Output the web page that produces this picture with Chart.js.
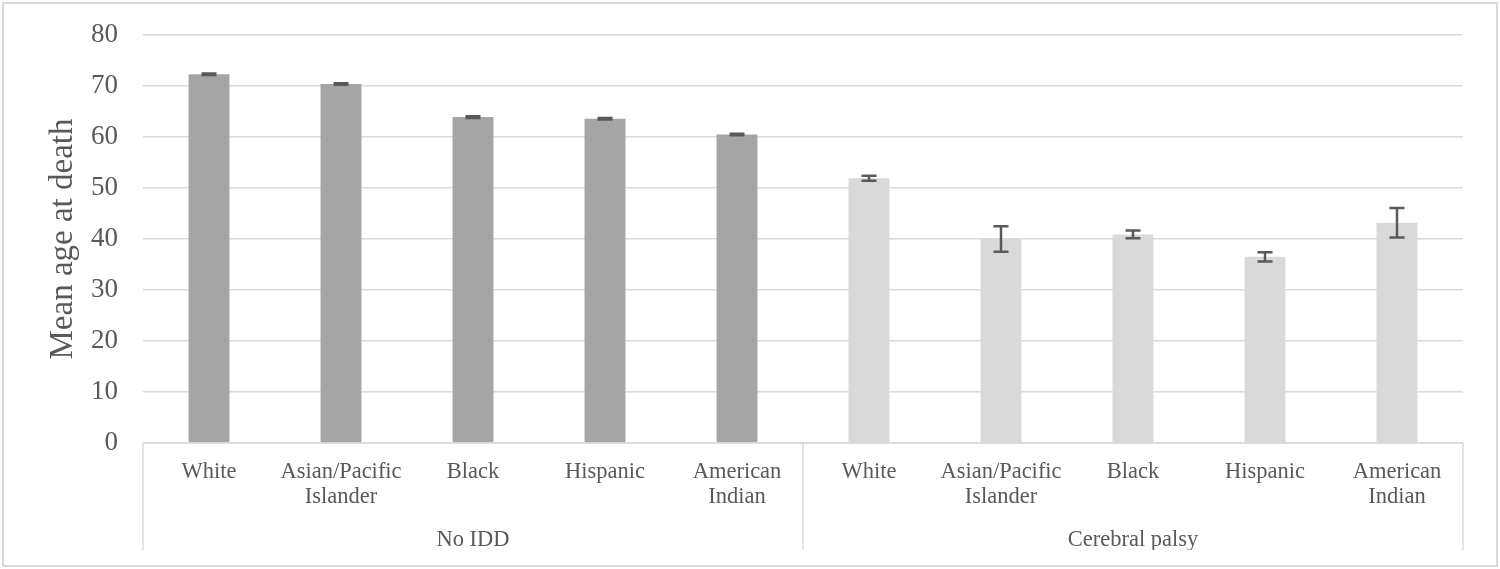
<!DOCTYPE html>
<html>
<head>
<meta charset="utf-8">
<script src="https://cdn.jsdelivr.net/npm/chart.js@4"></script>
<style>
  html, body { margin: 0; padding: 0; background: #fff; }
  #wrap { width: 1500px; height: 569px; }
</style>
</head>
<body>
<div id="wrap"><canvas id="grafica" width="1500" height="569"></canvas></div>
<script>
const categorias = [
  "White", ["Asian/Pacific", "Islander"], "Black", "Hispanic", ["American", "Indian"],
  "White", ["Asian/Pacific", "Islander"], "Black", "Hispanic", ["American", "Indian"],
];
const grupos = ["No IDD", "Cerebral palsy"];
const grupoDeBarra = [0, 0, 0, 0, 0, 1, 1, 1, 1, 1];
const edadMedia = [72.3, 70.4, 63.9, 63.6, 60.5, 51.9, 40.0, 40.9, 36.5, 43.2];
const errorEdad = [0.15, 0.15, 0.15, 0.15, 0.15, 0.5, 2.5, 0.75, 0.9, 2.9];
const ticksY = [0, 10, 20, 30, 40, 50, 60, 70, 80];

const gris = "#595959";
const lineaGris = "#d9d9d9";
const coloresGrupo = ["#a5a5a5", "#d9d9d9"];

// barras de error y separadores de grupos
const extras = {
  id: "extras",
  beforeDraw(chart) {
    const c = chart.ctx;
    c.save();
    c.strokeStyle = lineaGris;
    c.lineWidth = 2;
    c.strokeRect(3, 3, chart.width - 6, chart.height - 6);
    c.restore();
  },
  afterDatasetsDraw(chart) {
    const c = chart.ctx;
    const y = chart.scales.y;
    const x = chart.scales.x;
    const area = chart.chartArea;
    const meta = chart.getDatasetMeta(0);
    c.save();
    c.strokeStyle = gris;
    c.lineWidth = 2.5;
    meta.data.forEach((bar, i) => {
      const px = bar.x;
      const arriba = y.getPixelForValue(edadMedia[i] + errorEdad[i]);
      const abajo = y.getPixelForValue(edadMedia[i] - errorEdad[i]);
      c.beginPath();
      c.moveTo(px, arriba); c.lineTo(px, abajo);
      c.moveTo(px - 7.5, arriba); c.lineTo(px + 7.5, arriba);
      c.moveTo(px - 7.5, abajo); c.lineTo(px + 7.5, abajo);
      c.stroke();
    });
    // separadores
    const fin = chart.scales.x2.bottom;
    const medio = (x.getPixelForValue(4) + x.getPixelForValue(5)) / 2;
    c.strokeStyle = lineaGris;
    c.lineWidth = 1.5;
    c.beginPath();
    [area.left, medio, area.right].forEach((px) => {
      c.moveTo(px, area.bottom); c.lineTo(px, fin);
    });
    c.moveTo(area.left, area.bottom); c.lineTo(area.right, area.bottom);
    c.stroke();
    c.restore();
  },
};

new Chart(document.getElementById("grafica").getContext("2d"), {
  type: "bar",
  data: {
    labels: categorias,
    datasets: [
      {
        label: "Mean age at death",
        data: edadMedia,
        backgroundColor: grupoDeBarra.map((g) => coloresGrupo[g]),
        barPercentage: 0.31,
        categoryPercentage: 1,
      },
    ],
  },
  options: {
    responsive: false,
    animation: false,
    layout: { padding: { left: 44, right: 37, top: 35, bottom: 19 } },
    plugins: { legend: { display: false }, tooltip: { enabled: false } },
    scales: {
      x: {
        grid: { display: false },
        border: { display: false },
        ticks: {
          color: gris,
          font: { family: "Liberation Serif", size: 22.5, lineHeight: 1.1 },
          padding: 8.5,
          maxRotation: 0,
          autoSkip: false,
        },
        afterFit: (s) => { s.height = 74; },
      },
      x2: {
        type: "category",
        labels: grupos,
        position: "bottom",
        offset: true,
        grid: { display: false },
        border: { display: false },
        ticks: {
          color: gris,
          font: { family: "Liberation Serif", size: 22.5 },
          padding: 2,
        },
        afterFit: (s) => { s.height = 33; },
      },
      y: {
        min: 0,
        max: 80,
        afterBuildTicks: (s) => { s.ticks = ticksY.map((v) => ({ value: v })); },
        grid: { color: lineaGris, lineWidth: 1.5, drawTicks: false },
        border: { display: false },
        ticks: {
          color: gris,
          font: { family: "Liberation Serif", size: 27 },
          padding: 25,
        },
        title: {
          display: true,
          text: "Mean age at death",
          color: gris,
          font: { family: "Liberation Serif", size: 33 },
          padding: { top: 0, bottom: 6 },
        },
        afterFit: (s) => {
          s.width = 99;
          s.paddingTop = 0;
          s.paddingBottom = 0;
        },
      },
    },
  },
  plugins: [extras],
});
</script>
</body>
</html>
